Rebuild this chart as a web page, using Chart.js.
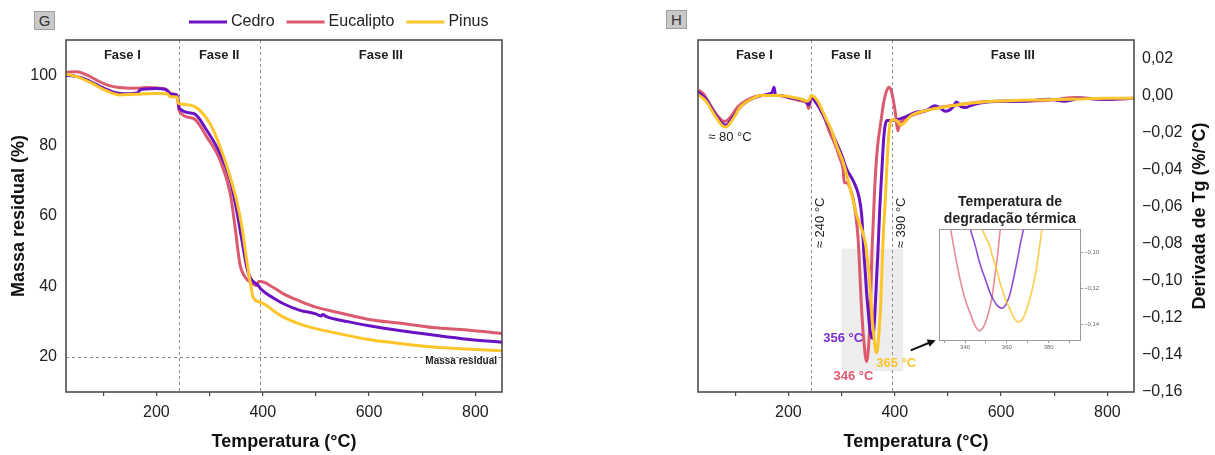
<!DOCTYPE html>
<html lang="pt">
<head>
<meta charset="utf-8">
<title>TG / DTG</title>
<script src="https://cdn.jsdelivr.net/npm/chart.js@4.4.1/dist/chart.umd.min.js"></script>
<style>
  html, body { margin: 0; padding: 0; background: #fff; }
  body { position: relative; width: 1215px; height: 455px; overflow: hidden; font-family: "Liberation Sans", Arial, sans-serif; }
  .box { position: absolute; }
  .tag { position: absolute; width: 19px; height: 17px; background: #c9c9c9; border: 1px solid #a0a0a0; color: #333; font-size: 15px; line-height: 17px; text-align: center; }
</style>
</head>
<body>
<div class="tag" style="left:34px; top:11px">G</div>
<div class="tag" style="left:666px; top:10px">H</div>
<div class="box" style="left:0; top:0; width:520px; height:455px"><canvas id="tgChart"></canvas></div>
<div class="box" style="left:660px; top:0; width:555px; height:455px"><canvas id="dtgChart"></canvas></div>
<div class="box" style="left:915px; top:180px; width:190px; height:175px"><canvas id="zoomChart"></canvas></div>
<script>
const FONT = '"Liberation Sans", Arial, sans-serif';
Chart.defaults.font.family = FONT;
Chart.defaults.color = '#222';

// series, axis ticks
const series = ['Cedro', 'Eucalipto', 'Pinus'];
const peakTemps = [356, 346, 365];
const phaseNames = ['Fase I', 'Fase II', 'Fase III'];
const phaseBounds = [242, 394];
const residualLevel = 20;
const tempTicks = [100, 200, 300, 400, 500, 600, 700, 800];
const tempLabels = [200, 400, 600, 800];
const massTicks = [20, 40, 60, 80, 100];
const derivTicks = [-0.16, -0.14, -0.12, -0.10, -0.08, -0.06, -0.04, -0.02, 0, 0.02];
const zoomTempTicks = [330, 340, 350, 360, 370, 380, 390];
const zoomTempLabels = [340, 360, 380];
const zoomDerivTicks = [-0.14, -0.12, -0.10];

// TG (massa residual, %)
const cedroTgT = [30, 45, 60, 80, 100, 120, 140, 160, 166, 170, 180, 200, 215, 222, 228, 238, 241, 243, 270, 295, 320, 339, 351, 361, 370, 376, 385, 392, 396, 420, 440, 470, 500, 510, 513, 520, 560, 600, 660, 720, 785, 850];
const cedroTg = [100, 99.8, 99.2, 97.9, 96.4, 95.2, 94.7, 94.9, 95.2, 95.9, 96.1, 96.2, 96.1, 95.4, 94.6, 94.4, 93, 90.6, 89.1, 84.3, 77.7, 70.1, 61.6, 53, 45.4, 42.6, 41, 40.2, 39.3, 36.7, 35, 33.2, 32.2, 31.6, 32.0, 31.4, 30.0, 28.8, 27.4, 26.2, 25.0, 24.1];
const eucaTgT = [30, 50, 70, 90, 110, 130, 160, 180, 210, 220, 226, 238, 241, 243, 270, 295, 320, 339, 348, 357, 367, 382, 389, 392, 396, 420, 440, 470, 500, 550, 600, 660, 720, 785, 850];
const eucaTg = [100.8, 101.0, 100.0, 98.4, 97.1, 96.5, 96.3, 96.5, 96.2, 95.8, 94.7, 94.3, 92.0, 89.8, 87.7, 82.4, 75.8, 66.3, 56.8, 46.4, 42.6, 40.7, 40.2, 41.4, 41.4, 39.7, 37.8, 35.8, 34.1, 32.3, 30.6, 29.5, 28.3, 27.6, 26.6];
const pinusTgT = [30, 50, 80, 100, 130, 160, 200, 220, 226, 239, 241, 244, 270, 282, 301, 320, 339, 351, 361, 370, 376, 382, 395, 410, 420, 440, 470, 500, 533, 596, 658, 721, 784, 850];
const pinusTg = [100.3, 99.6, 97.6, 96.0, 94.4, 94.6, 94.8, 94.7, 93.9, 93.8, 92.2, 91.9, 91.2, 90.0, 86.2, 79.6, 71.0, 64.4, 56.8, 47.3, 41.6, 36.9, 35.5, 34.3, 33.1, 31.2, 29.3, 28.0, 26.9, 25.0, 23.8, 22.8, 22.2, 21.7];

// DTG (%/°C)
const cedroDtgT = [30, 45, 60, 75, 82, 95, 110, 130, 150, 165, 170, 173, 176, 185, 200, 220, 232, 238, 242, 255, 270, 285, 300, 310, 316, 322, 328, 333, 338, 342, 345, 347, 350, 352, 355, 357.5, 359.5, 361.6, 363.3, 365, 366.5, 368, 372, 375.5, 379, 382, 386, 395, 405, 420, 440, 460, 475, 485, 495, 502, 510, 516, 525, 532, 545, 560, 600, 640, 690, 720, 750, 790, 850];
const cedroDtg = [0.002, -0.002, -0.009, -0.015, -0.016, -0.012, -0.006, -0.002, 0, 0.001, 0.002, 0.0045, 0, 0, -0.001, -0.002, -0.003, -0.005, -0.001, -0.005, -0.013, -0.022, -0.032, -0.040, -0.043, -0.046, -0.050, -0.055, -0.065, -0.085, -0.097, -0.106, -0.116, -0.1227, -0.129, -0.131, -0.129, -0.1227, -0.114, -0.1043, -0.095, -0.087, -0.060, -0.042, -0.024, -0.016, -0.0135, -0.0135, -0.013, -0.0115, -0.009, -0.008, -0.0055, -0.0065, -0.0085, -0.008, -0.006, -0.0035, -0.006, -0.0065, -0.0052, -0.004, -0.003, -0.003, -0.002, -0.003, -0.0015, -0.002, -0.0015];
const eucaDtgT = [30, 40, 55, 70, 80, 90, 105, 125, 150, 180, 200, 225, 235, 238, 241, 243, 250, 265, 278, 290, 297, 303, 305, 310, 316, 322, 327, 331, 333, 335.5, 337.6, 340, 342.4, 344.5, 346.7, 349, 351.2, 353, 354.4, 355.7, 356.8, 359, 362, 366, 369, 372, 375, 379, 384, 389, 393, 397, 401, 404, 406, 409, 413, 430, 450, 480, 520, 560, 620, 690, 740, 790, 850];
const eucaDtg = [0.003, 0.001, -0.006, -0.012, -0.014, -0.012, -0.006, -0.002, 0, 0, -0.001, -0.003, -0.004, -0.007, -0.004, 0, -0.003, -0.010, -0.020, -0.028, -0.034, -0.040, -0.047, -0.047, -0.050, -0.056, -0.065, -0.077, -0.087, -0.103, -0.115, -0.126, -0.1337, -0.140, -0.1435, -0.141, -0.1337, -0.124, -0.1116, -0.100, -0.0877, -0.072, -0.052, -0.033, -0.024, -0.018, -0.012, -0.004, 0.002, 0.0045, 0.003, -0.002, -0.009, -0.016, -0.019, -0.015, -0.014, -0.011, -0.009, -0.0065, -0.005, -0.0035, -0.003, -0.0025, -0.001, -0.002, -0.0015];
const pinusDtgT = [30, 45, 60, 75, 82, 95, 110, 130, 150, 180, 210, 225, 235, 240, 243, 255, 270, 280, 292, 303, 316, 328, 341, 345, 348, 350, 352, 353, 355, 356.8, 359, 361.6, 363.5, 365.3, 367.5, 369.6, 371.6, 373.6, 375.3, 376.8, 379, 381.6, 385, 388, 391, 394, 404, 412, 419, 430, 460, 497, 530, 560, 623, 685, 748, 800, 850];
const pinusDtg = [0.0005, -0.003, -0.010, -0.016, -0.017, -0.013, -0.006, -0.002, 0, 0, -0.001, -0.002, -0.003, -0.002, 0, -0.003, -0.012, -0.018, -0.028, -0.036, -0.050, -0.064, -0.075, -0.080, -0.087, -0.092, -0.0969, -0.102, -0.109, -0.1171, -0.125, -0.1319, -0.1365, -0.1387, -0.137, -0.1312, -0.123, -0.1127, -0.100, -0.087, -0.072, -0.060, -0.040, -0.024, -0.0154, -0.013, -0.0135, -0.016, -0.0144, -0.011, -0.008, -0.006, -0.0045, -0.0036, -0.0027, -0.0023, -0.0018, -0.0015, -0.0015];

const colors = ['#6b12c4', '#db5a6e', '#fcc62b'];
const softColors = ['rgba(107,18,196,0.75)', 'rgba(219,90,110,0.7)', 'rgba(252,198,43,0.85)'];
const labelColors = ['#7b2fd3', '#e0596f', '#f7c431'];
const drawOrder = [1, 2, 0];

const tgT = [cedroTgT, eucaTgT, pinusTgT], tgY = [cedroTg, eucaTg, pinusTg];
const dtgT = [cedroDtgT, eucaDtgT, pinusDtgT], dtgY = [cedroDtg, eucaDtg, pinusDtg];

function pts(xs, ys) { return xs.map((x, i) => ({ x, y: ys[i] })); }
function comma(v, d) { return (v < -1e-9 ? '\u2212' : '') + Math.abs(v).toFixed(d).replace('.', ','); }
function setTicks(list) { return s => { s.ticks = list.map(v => ({ value: v })); }; }

function lineSets(ts, ys, width, palette, clip) {
  return series.map((name, i) => ({
    label: name,
    data: pts(ts[i], ys[i]),
    borderColor: palette[i],
    backgroundColor: palette[i],
    borderWidth: width,
    pointRadius: 0,
    cubicInterpolationMode: 'monotone',
    order: drawOrder[i],
    clip: clip
  }));
}

function tempAxis() {
  return {
    type: 'linear', min: 30, max: 850,
    afterBuildTicks: setTicks(tempTicks),
    afterFit: s => { s.height = 63; },
    grid: { drawOnChartArea: false, drawTicks: true, tickLength: 4, color: '#444', lineWidth: 1.2 },
    border: { display: false },
    ticks: { font: { size: 16 }, color: '#222', padding: 7, maxRotation: 0, autoSkip: false,
      callback: v => tempLabels.includes(v) ? String(v) : '' },
    title: { display: true, text: 'Temperatura (°C)', font: { size: 18, weight: 'bold' }, color: '#111', padding: { top: 0, bottom: 2 } }
  };
}

const frame = (color, w) => ({
  id: 'frame',
  afterDatasetsDraw(chart) {
    const { ctx, chartArea: a } = chart;
    ctx.save();
    ctx.strokeStyle = color; ctx.lineWidth = w;
    ctx.strokeRect(a.left, a.top, a.right - a.left, a.bottom - a.top);
    ctx.restore();
  }
});

function drawPhases(chart) {
  const { ctx, chartArea: a, scales: { x } } = chart;
  ctx.save();
  ctx.strokeStyle = '#8c8c8c'; ctx.lineWidth = 1; ctx.setLineDash([3, 3]);
  phaseBounds.forEach(t => {
    const px = Math.round(x.getPixelForValue(t)) + 0.5;
    ctx.beginPath(); ctx.moveTo(px, a.top); ctx.lineTo(px, a.bottom); ctx.stroke();
  });
  ctx.setLineDash([]);
  ctx.fillStyle = '#222'; ctx.font = 'bold 13px ' + FONT;
  ctx.textAlign = 'center'; ctx.textBaseline = 'middle';
  const edges = [x.min, ...phaseBounds, x.max];
  phaseNames.forEach((n, i) => ctx.fillText(n, x.getPixelForValue((edges[i] + edges[i + 1]) / 2), a.top + 15));
  ctx.restore();
}

const tgDecor = {
  id: 'tgDecor',
  beforeDatasetsDraw(chart) {
    const { ctx, chartArea: a, scales: { y } } = chart;
    drawPhases(chart);
    ctx.save();
    const py = Math.round(y.getPixelForValue(residualLevel)) + 0.5;
    ctx.strokeStyle = '#8c8c8c'; ctx.lineWidth = 1; ctx.setLineDash([3, 3]);
    ctx.beginPath(); ctx.moveTo(a.left, py); ctx.lineTo(a.right, py); ctx.stroke();
    ctx.setLineDash([]);
    ctx.fillStyle = '#222'; ctx.font = 'bold 10px ' + FONT;
    ctx.textAlign = 'right'; ctx.textBaseline = 'middle';
    ctx.fillText('Massa residual', a.right - 5, py + 4);
    ctx.restore();
  },
  afterDraw(chart) {
    // legend row above the plot
    const ctx = chart.ctx;
    ctx.save();
    ctx.font = '16px ' + FONT; ctx.textBaseline = 'middle'; ctx.textAlign = 'left';
    let x = 189; const y = 22;
    series.forEach((name, i) => {
      ctx.strokeStyle = colors[i]; ctx.lineWidth = 3;
      ctx.beginPath(); ctx.moveTo(x, y); ctx.lineTo(x + 38, y); ctx.stroke();
      x += 42;
      ctx.fillStyle = '#222'; ctx.fillText(name, x, y);
      x += ctx.measureText(name).width + 12;
    });
    ctx.restore();
  }
};

new Chart(document.getElementById('tgChart'), {
  type: 'line',
  data: { datasets: lineSets(tgT, tgY, 3, colors) },
  options: {
    responsive: true, maintainAspectRatio: false, animation: false,
    layout: { padding: { left: 0, right: 18, top: 40, bottom: 0 } },
    plugins: { legend: { display: false }, tooltip: { enabled: false } },
    scales: {
      x: tempAxis(),
      y: {
        type: 'linear', min: 10, max: 110,
        afterBuildTicks: setTicks(massTicks),
        afterFit: s => { s.width = 66; },
        grid: { drawOnChartArea: false, drawTicks: false },
        border: { display: false },
        ticks: { font: { size: 16 }, color: '#222', padding: 9 },
        title: { display: true, text: 'Massa residual (%)', font: { size: 18, weight: 'bold' }, color: '#111', padding: { top: 8, bottom: 0 } }
      }
    }
  },
  plugins: [tgDecor, frame('#4d4d4d', 1.6)]
});

const dtgDecor = {
  id: 'dtgDecor',
  beforeDatasetsDraw(chart) {
    const { ctx, scales: { x, y } } = chart;
    ctx.save();
    ctx.fillStyle = '#ededed';
    const x0 = x.getPixelForValue(300), x1 = x.getPixelForValue(416);
    const y0 = y.getPixelForValue(-0.0826), y1 = y.getPixelForValue(-0.1488);
    ctx.fillRect(x0, y0, x1 - x0, y1 - y0);
    ctx.restore();
    drawPhases(chart);
  },
  afterDatasetsDraw(chart) {
    const { ctx, chartArea: a, scales: { x, y } } = chart;
    ctx.save();
    ctx.textAlign = 'center'; ctx.textBaseline = 'middle';
    ctx.fillStyle = '#222'; ctx.font = '13px ' + FONT;
    ctx.fillText('\u2248 80 °C', x.getPixelForValue(90), y.getPixelForValue(-0.0225));
    [[phaseBounds[0], '\u2248 240 °C'], [phaseBounds[1], '\u2248 390 °C']].forEach(([t, s]) => {
      ctx.save();
      ctx.translate(x.getPixelForValue(t) + 9.5, y.getPixelForValue(-0.0687));
      ctx.rotate(-Math.PI / 2);
      ctx.fillText(s, 0, 0);
      ctx.restore();
    });

    // peak temperature labels next to each minimum
    const place = [{ dx: -9, dy: 0, align: 'right' }, { dx: -13, dy: 15, align: 'center' }, { dx: 0, dy: 11, align: 'left' }];
    ctx.font = 'bold 13px ' + FONT;
    series.forEach((_, i) => {
      const ys = dtgY[i];
      const k = ys.indexOf(Math.min(...ys));
      const px = x.getPixelForValue(dtgT[i][k]), py = y.getPixelForValue(ys[k]);
      ctx.fillStyle = labelColors[i]; ctx.textAlign = place[i].align;
      ctx.fillText(peakTemps[i] + ' °C', px + place[i].dx, py + place[i].dy);
    });

    // arrow towards the zoom panel
    const ax0 = x.getPixelForValue(430), ay0 = y.getPixelForValue(-0.1375);
    const ax1 = x.getPixelForValue(477), ay1 = y.getPixelForValue(-0.132);
    const ang = Math.atan2(ay1 - ay0, ax1 - ax0);
    ctx.strokeStyle = '#111'; ctx.fillStyle = '#111'; ctx.lineWidth = 2;
    ctx.beginPath(); ctx.moveTo(ax0, ay0); ctx.lineTo(ax1 - 5 * Math.cos(ang), ay1 - 5 * Math.sin(ang)); ctx.stroke();
    ctx.beginPath();
    ctx.moveTo(ax1, ay1);
    ctx.lineTo(ax1 - 9 * Math.cos(ang - 0.45), ay1 - 9 * Math.sin(ang - 0.45));
    ctx.lineTo(ax1 - 9 * Math.cos(ang + 0.45), ay1 - 9 * Math.sin(ang + 0.45));
    ctx.closePath(); ctx.fill();

    // right axis title, reading upwards
    ctx.save();
    ctx.translate(a.right + 66, (a.top + a.bottom) / 2);
    ctx.rotate(-Math.PI / 2);
    ctx.textAlign = 'center'; ctx.fillStyle = '#111'; ctx.font = 'bold 18px ' + FONT;
    ctx.fillText('Derivada de Tg (%/°C)', 0, 0);
    ctx.restore();
    ctx.restore();
  }
};

new Chart(document.getElementById('dtgChart'), {
  type: 'line',
  data: { datasets: lineSets(dtgT, dtgY, 3, colors) },
  options: {
    responsive: true, maintainAspectRatio: false, animation: false,
    layout: { padding: { left: 38, right: 0, top: 40, bottom: 0 } },
    plugins: { legend: { display: false }, tooltip: { enabled: false } },
    scales: {
      x: tempAxis(),
      y: {
        type: 'linear', position: 'right', min: -0.16, max: 0.03,
        afterBuildTicks: setTicks(derivTicks),
        afterFit: s => { s.width = 81; },
        grid: { drawOnChartArea: false, drawTicks: false },
        border: { display: false },
        ticks: { font: { size: 16 }, color: '#222', padding: 8, callback: v => comma(v, 2) }
      }
    }
  },
  plugins: [dtgDecor, frame('#4d4d4d', 1.6)]
});

const zoomDecor = {
  id: 'zoomDecor',
  afterDatasetsDraw(chart) {
    const { ctx, chartArea: a } = chart;
    ctx.save();
    ctx.strokeStyle = '#9a9a9a'; ctx.lineWidth = 1;
    ctx.strokeRect(a.left + 0.5, a.top + 0.5, a.right - a.left - 1, a.bottom - a.top - 1);
    ctx.fillStyle = '#222'; ctx.font = 'bold 14px ' + FONT;
    ctx.textAlign = 'center'; ctx.textBaseline = 'middle';
    const cx = (a.left + a.right) / 2;
    ctx.fillText('Temperatura de', cx, a.top - 27);
    ctx.fillText('degradação térmica', cx, a.top - 10);
    ctx.restore();
  }
};

new Chart(document.getElementById('zoomChart'), {
  type: 'line',
  data: { datasets: lineSets(dtgT, dtgY, 1.6, softColors, 0) },
  options: {
    responsive: true, maintainAspectRatio: false, animation: false,
    layout: { padding: { left: 24, right: 0, top: 49, bottom: 0 } },
    plugins: { legend: { display: false }, tooltip: { enabled: false } },
    scales: {
      x: {
        type: 'linear', min: 327.5, max: 395.5,
        afterBuildTicks: setTicks(zoomTempTicks),
        afterFit: s => { s.height = 14; },
        grid: { drawOnChartArea: false, tickLength: 2, color: '#999' },
        border: { display: false },
        ticks: { font: { size: 6 }, color: '#666', padding: 1, maxRotation: 0, autoSkip: false,
          callback: v => zoomTempLabels.includes(v) ? String(v) : '' }
      },
      y: {
        type: 'linear', position: 'right', min: -0.1492, max: -0.0871,
        afterBuildTicks: setTicks(zoomDerivTicks),
        afterFit: s => { s.width = 24; },
        grid: { drawOnChartArea: false, tickLength: 2, color: '#999' },
        border: { display: false },
        ticks: { font: { size: 6 }, color: '#666', padding: 1, callback: v => comma(v, 2) }
      }
    }
  },
  plugins: [zoomDecor]
});
</script>
</body>
</html>
